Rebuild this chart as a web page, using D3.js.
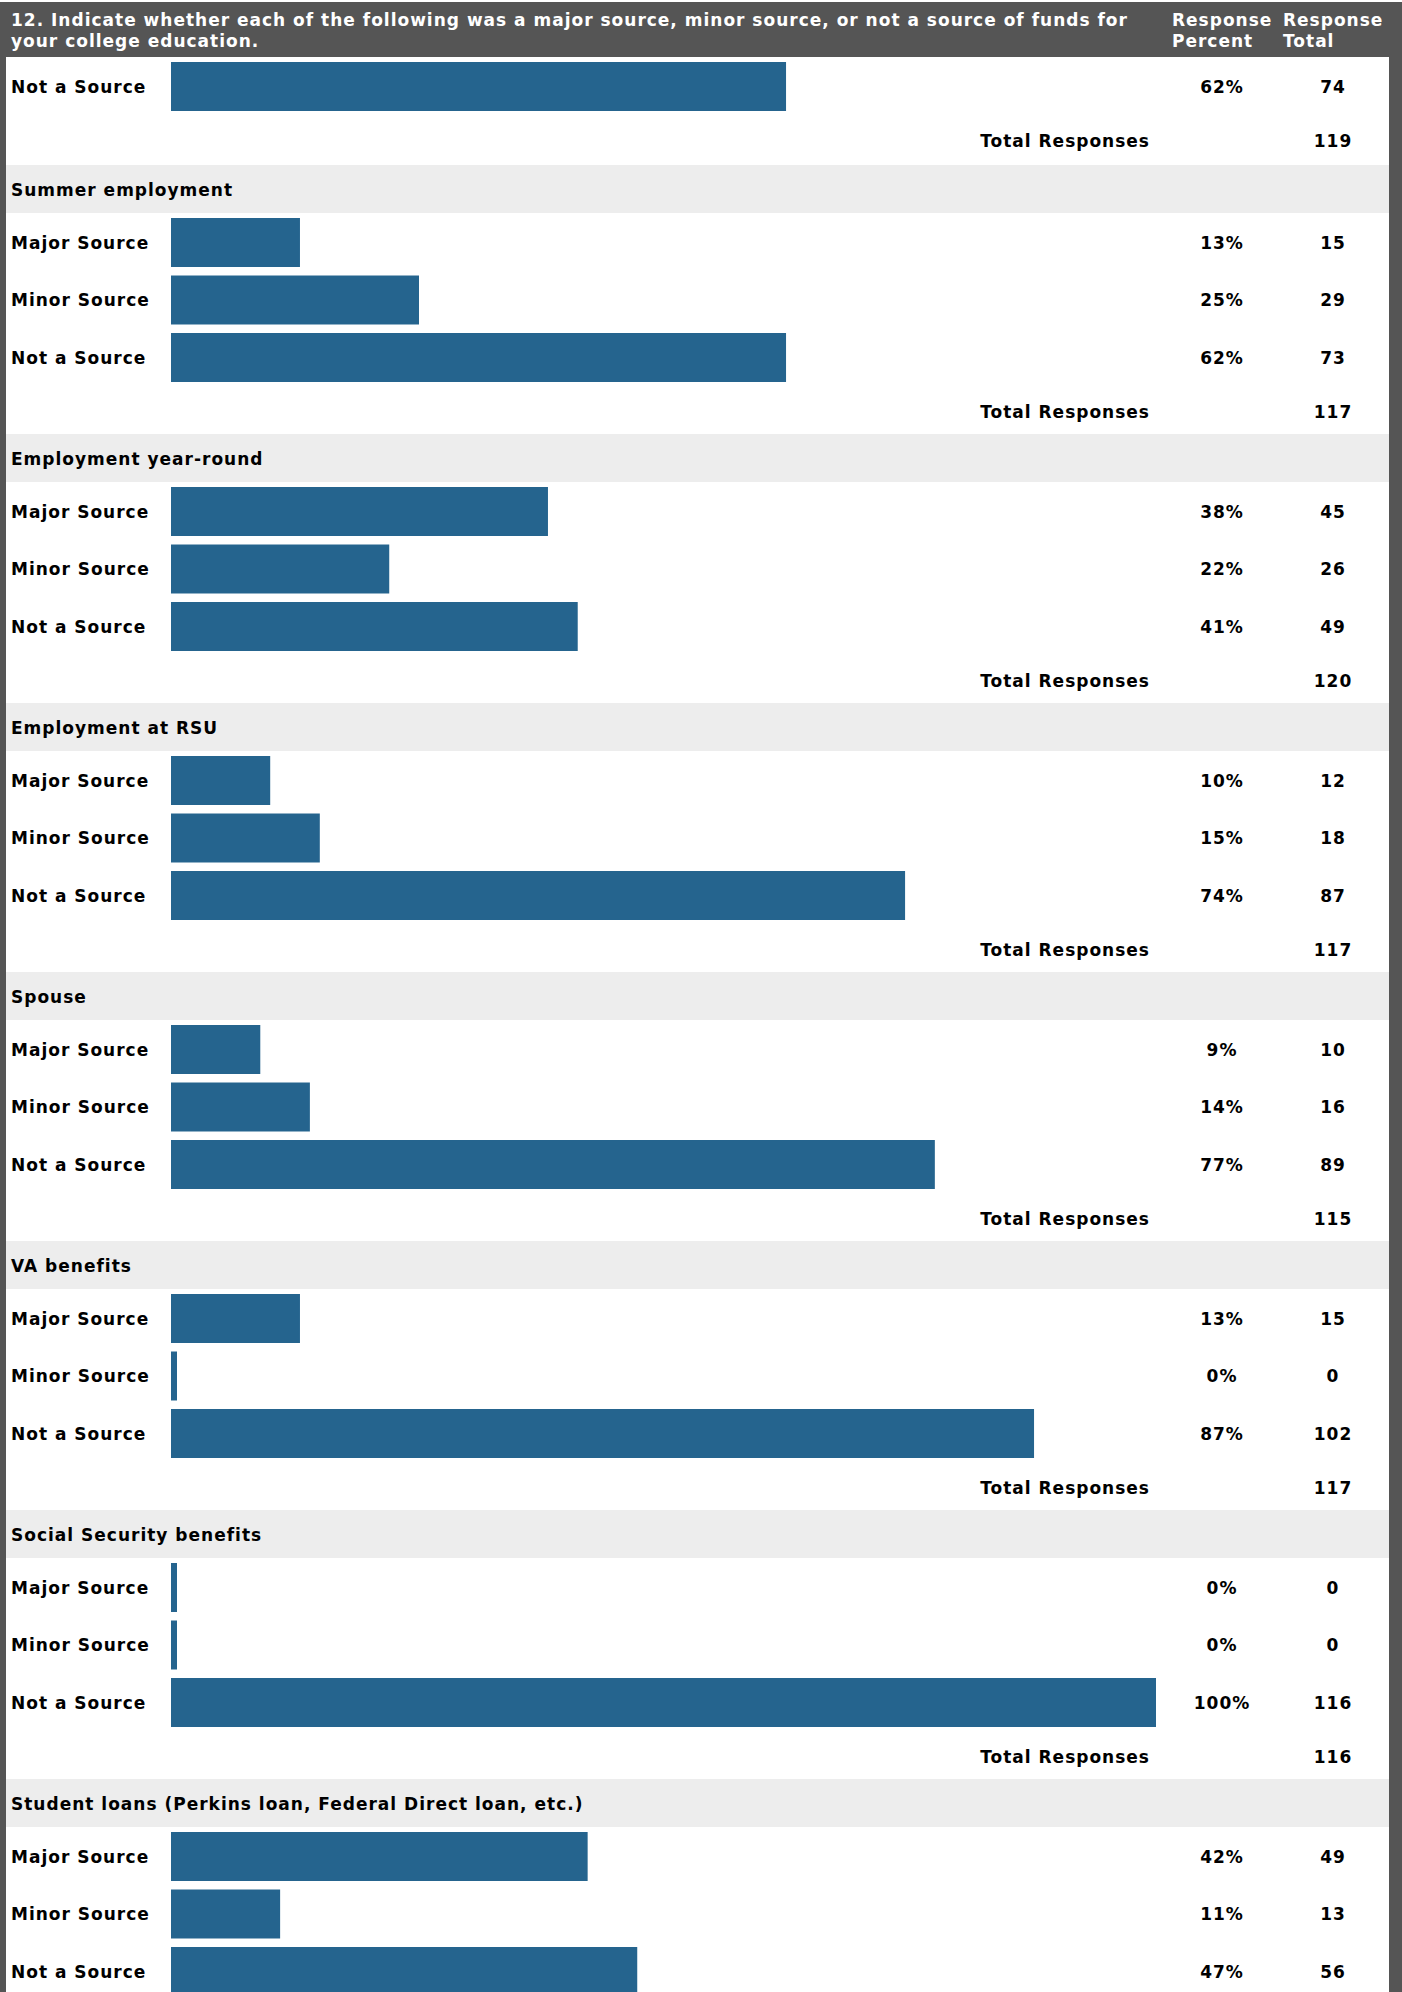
<!DOCTYPE html>
<html>
<head>
<meta charset="utf-8">
<script src="https://cdn.jsdelivr.net/npm/d3@7"></script>
<style>
  body { margin: 0; background: #fff; }
  svg { display: block; }
  text { font-family: "DejaVu Sans", Verdana, sans-serif; font-weight: bold; }
</style>
</head>
<body>
<svg width="1402" height="1992"></svg>
<script>
const WIDTH = 1402;
const HEIGHT = 1992;
const FONT_SIZE = 17;
const LETTER_SPACING = 1;

const questionLines = [
  "12. Indicate whether each of the following was a major source, minor source, or not a source of funds for",
  "your college education."
];
const percentHeader = ["Response", "Percent"];
const totalHeader = ["Response", "Total"];

const answerLabels = ["Major Source", "Minor Source", "Not a Source"];

// first block is the tail of the previous item, only its last row is visible
const sectionTitles = [
  null,
  "Summer employment",
  "Employment year-round",
  "Employment at RSU",
  "Spouse",
  "VA benefits",
  "Social Security benefits",
  "Student loans (Perkins loan, Federal Direct loan, etc.)"
];
const majorPct   = [null, 13, 38, 10,  9, 13,   0, 42];
const minorPct   = [null, 25, 22, 15, 14,  0,   0, 11];
const notPct     = [62,   62, 41, 74, 77, 87, 100, 47];
const majorCount = [null, 15, 45, 12, 10, 15,   0, 49];
const minorCount = [null, 29, 26, 18, 16,  0,   0, 13];
const notCount   = [74,   73, 49, 87, 89, 102, 116, 56];
// last total is below the bottom edge of the picture
const totalResponses = [119, 117, 120, 117, 115, 117, 116, null];

const HEADER_H = 57;
const BORDER_L = 6;
const BORDER_R = 13;
const SECTION_H = 269;
const FIRST_SECTION = 165;
const BAND_H = 48;
const BAR_X = 171;
const MIN_BAR = 6;
const MAX_BAR = 985;
const PCT_X = 1222;
const TOTAL_X = 1333;
const TOTAL_ROW_Y = 246.5;

const svg = d3.select("svg");

const x = d3.scaleLinear().domain([0, 100]).range([0, 992]);
const y = d3.scaleBand()
  .domain(answerLabels)
  .range([53, 217])
  .paddingInner(0.148);

const sectionTop = i => i === 0 ? FIRST_SECTION - SECTION_H - 2 : FIRST_SECTION + (i - 1) * SECTION_H;
const capMid = FONT_SIZE * 0.36;
const barWidth = d => Math.max(MIN_BAR, Math.min(MAX_BAR, x(d.pct)));

svg.append("rect")
  .attr("x", 0).attr("y", 0)
  .attr("width", WIDTH).attr("height", HEIGHT)
  .attr("fill", "#fff");

const sections = sectionTitles.map((title, i) => ({
  title,
  top: sectionTop(i),
  total: totalResponses[i],
  rows: [
    {label: answerLabels[0], pct: majorPct[i], count: majorCount[i]},
    {label: answerLabels[1], pct: minorPct[i], count: minorCount[i]},
    {label: answerLabels[2], pct: notPct[i], count: notCount[i]}
  ].filter(r => r.pct !== null)
}));

const sec = svg.selectAll(".section")
  .data(sections)
  .enter()
  .append("g")
  .attr("class", "section")
  .attr("transform", d => "translate(0," + d.top + ")");

const titled = sec.filter(d => d.title !== null);

titled.append("rect")
  .attr("x", 0).attr("y", 0)
  .attr("width", WIDTH).attr("height", BAND_H)
  .attr("fill", "#ededed");

titled.append("text")
  .attr("x", 11)
  .attr("y", BAND_H / 2 + capMid + 0.5)
  .attr("font-size", FONT_SIZE)
  .attr("letter-spacing", LETTER_SPACING)
  .attr("fill", "#000")
  .text(d => d.title);

const row = sec.selectAll(".row")
  .data(d => d.rows)
  .enter()
  .append("g")
  .attr("class", "row");

row.append("rect")
  .attr("x", BAR_X)
  .attr("y", d => y(d.label))
  .attr("width", barWidth)
  .attr("height", y.bandwidth())
  .attr("fill", "#25648e");

const rowText = (sel, xPos, anchor, fn) => sel.append("text")
  .attr("x", xPos)
  .attr("y", d => y(d.label) + y.bandwidth() / 2 + capMid)
  .attr("text-anchor", anchor)
  .attr("font-size", FONT_SIZE)
  .attr("letter-spacing", LETTER_SPACING)
  .text(fn);

rowText(row, 11, "start", d => d.label);
rowText(row, PCT_X, "middle", d => d.pct + "%");
rowText(row, TOTAL_X, "middle", d => d.count);

const totalRow = sec.filter(d => d.total !== null);

totalRow.append("text")
  .attr("x", 1150)
  .attr("y", TOTAL_ROW_Y + capMid)
  .attr("text-anchor", "end")
  .attr("font-size", FONT_SIZE)
  .attr("letter-spacing", LETTER_SPACING)
  .text("Total Responses");

totalRow.append("text")
  .attr("x", TOTAL_X)
  .attr("y", TOTAL_ROW_Y + capMid)
  .attr("text-anchor", "middle")
  .attr("font-size", FONT_SIZE)
  .attr("letter-spacing", LETTER_SPACING)
  .text(d => d.total);

// dark frame: header and side borders
svg.append("rect")
  .attr("x", 0).attr("y", 2)
  .attr("width", WIDTH).attr("height", HEADER_H - 2)
  .attr("fill", "#555");
svg.append("rect")
  .attr("x", 0).attr("y", 2)
  .attr("width", BORDER_L).attr("height", HEIGHT)
  .attr("fill", "#555");
svg.append("rect")
  .attr("x", WIDTH - BORDER_R).attr("y", 2)
  .attr("width", BORDER_R).attr("height", HEIGHT)
  .attr("fill", "#555");

const header = svg.append("g").attr("fill", "#fff");
const headerBaselines = [25.5, 47];

const headerLines = (cls, lines, xPos) => header.selectAll("." + cls)
  .data(lines)
  .enter()
  .append("text")
  .attr("class", cls)
  .attr("x", xPos)
  .attr("y", (d, i) => headerBaselines[i])
  .attr("font-size", FONT_SIZE)
  .attr("letter-spacing", LETTER_SPACING)
  .text(d => d);

headerLines("q", questionLines, 11);
headerLines("hp", percentHeader, 1172);
headerLines("ht", totalHeader, 1283);
</script>
</body>
</html>
